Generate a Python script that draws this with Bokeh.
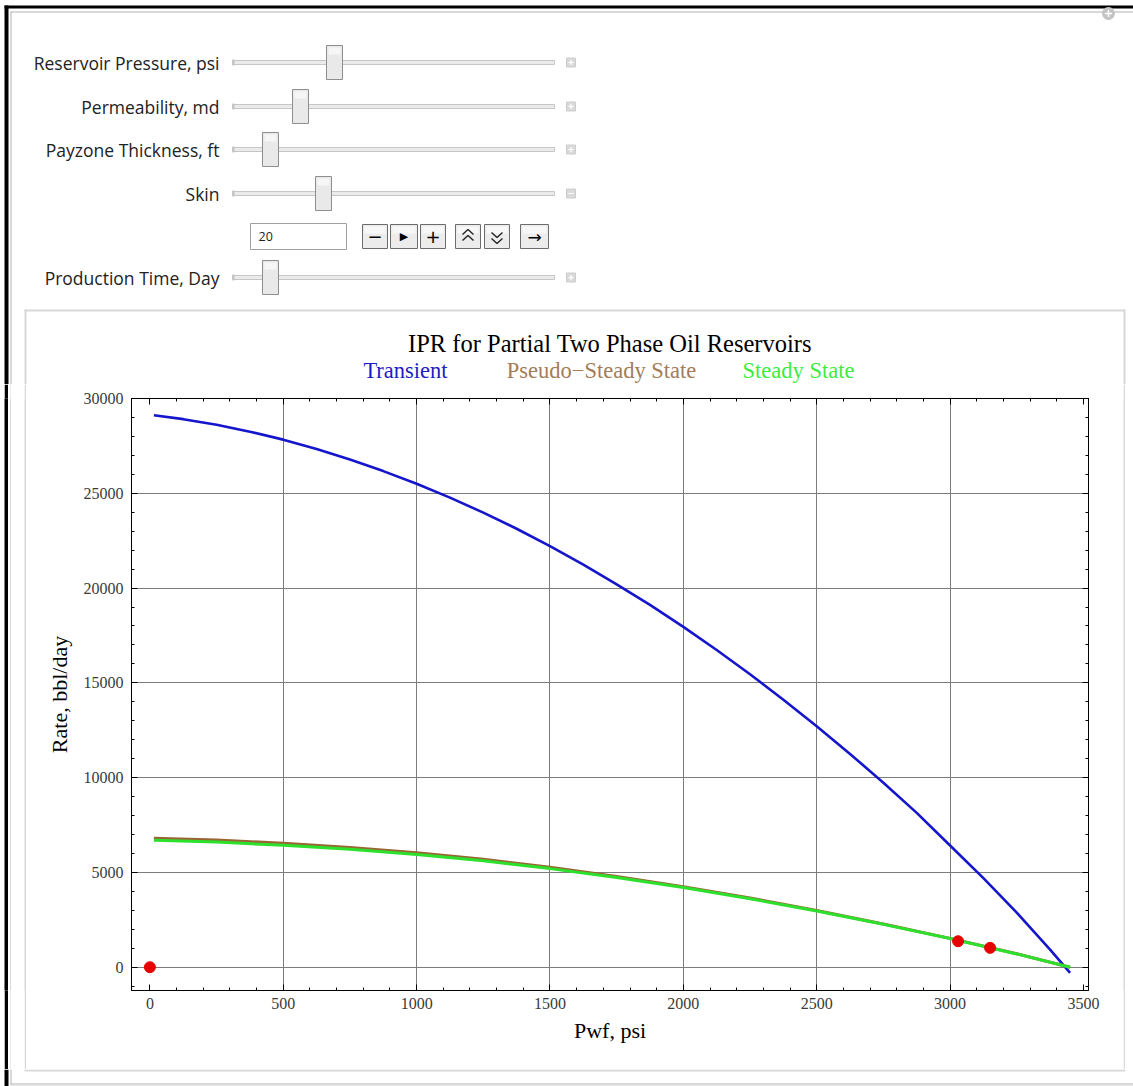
from bokeh.plotting import figure
from bokeh.layouts import column, row
from bokeh.models import (LinearAxis, SingleIntervalTicker, FixedTicker, Range1d,
                          CustomJSTickFormatter)
from bokeh.core.properties import value
from bokeh.embed import file_html
from bokeh.resources import INLINE

# ---------------- data ----------------
pwf_fine = [15, 125, 250, 375, 500, 625, 750, 875, 1000, 1125, 1250, 1375, 1500, 1625,
            1750, 1875, 2000, 2125, 2250, 2375, 2500, 2625, 2750, 2875, 3000, 3125,
            3250, 3375, 3450]
q_transient = [29120, 28910, 28620, 28250, 27830, 27330, 26780, 26170, 25500, 24770,
               23980, 23130, 22210, 21240, 20200, 19110, 17950, 16730, 15450, 14110,
               12710, 11250, 9730, 8140, 6420, 4700, 2880, 930, -300]
pwf = [15, 250, 500, 750, 1000, 1250, 1500, 1750, 2000, 2250, 2500, 2750, 3000, 3250, 3450]
q_pss = [6800, 6710, 6540, 6320, 6040, 5690, 5270, 4790, 4250, 3650, 2990, 2280, 1520, 705, 0]
q_ss = [6690, 6600, 6430, 6220, 5950, 5610, 5200, 4730, 4200, 3610, 2960, 2260, 1510, 700, 0]
op_pwf = [0, 3030, 3150]
op_rate = [0, 1370, 1020]

title_text = "IPR for Partial Two Phase Oil Reservoirs"
legend_names = ["Transient", "Pseudo\u2212Steady State", "Steady State"]
legend_colors = ["#1c1cc4", "#a47c58", "#3cec3c"]
x_label = "Pwf, psi"
y_label = "Rate, bbl/day"
x_grid = [500, 1000, 1500, 2000, 2500, 3000]
y_grid = [0, 5000, 10000, 15000, 20000, 25000]

control_names = ["Reservoir Pressure, psi", "Permeability, md", "Payzone Thickness, ft",
                 "Skin", "Production Time, Day"]
control_value = "20"

# ---------------- page geometry (pixels) ----------------
W, H = 1133, 1086
TOP_H = 384            # controls + title strip
PANEL_B = 1069         # bottom of the plot panel
FL, FR, FT, FB = 131, 1088, 398, 990
PLOT_X0, PLOT_W = 26, 1097
MID_H = PANEL_B - TOP_H


def deco_fig(w, h, x0, x1, y0, y1):
    f = figure(width=w, height=h, output_backend="svg", toolbar_location=None,
               x_range=Range1d(x0, x1), y_range=Range1d(y1, y0),
               x_axis_type=None, y_axis_type=None, min_border=0,
               background_fill_color="white", border_fill_color="white")
    f.outline_line_color = None
    return f


def strip(w, color):
    f = figure(width=w, height=MID_H, output_backend="svg", toolbar_location=None,
               x_axis_type=None, y_axis_type=None, min_border=0,
               background_fill_color=color, border_fill_color=color)
    f.outline_line_color = None
    return f


def fbox(f, l, t, r, b, color):
    f.quad(left=[l], right=[r], top=[t], bottom=[b], fill_color=color, line_color=None)


def obox(f, l, t, r, b, fill, line, lw=1):
    f.quad(left=[l], right=[r], top=[t], bottom=[b], fill_color=fill,
           line_color=line, line_width=lw)


def txt(f, x, y, s, size, color="#222222", font="Open Sans", align="left"):
    f.text(x=[x], y=[y], text=[s], text_font=value(font), text_font_size=f"{size}px",
           text_color=color, text_align=align, text_baseline="middle")


# ---------------- top strip: controls, title, legend ----------------
top = deco_fig(W, TOP_H, 0, W, 0, TOP_H)
fbox(top, 4, 5, 8, TOP_H, "black")
fbox(top, 4, 5, W, 8, "black")
fbox(top, 10, 11, 11, TOP_H, "#b4b4b4")
fbox(top, 10, 11, W, 12, "#b4b4b4")
fbox(top, 24, 309, 1125, 311, "#d8d8d8")
fbox(top, 24, 309, 26, TOP_H, "#d8d8d8")
fbox(top, 1123, 309, 1125, TOP_H, "#d8d8d8")

row_y = [62, 106, 149, 193, 277]
thumb_x = [334, 300, 270, 323, 270]
for name, yy, tx in zip(control_names, row_y, thumb_x):
    txt(top, 219, yy, name, 17.5, align="right")
    obox(top, 232, yy - 2, 554, yy + 2, "#ebebeb", "#c6c6c6")
    fbox(top, 232, yy - 3, 234, yy + 3, "#c4c4c4")
    obox(top, tx - 8, yy - 17, tx + 8, yy + 17, "#e9e9e9", "#8e8e8e")
    fbox(top, tx - 6, yy - 15, tx + 6, yy - 8, "#f6f6f6")
    obox(top, 566, yy - 4.5, 575, yy + 4.5, "#dadada", "#cdcdcd")
    fbox(top, 568, yy - 0.6, 573, yy + 0.6, "white")
    if name != "Skin":
        fbox(top, 569.9, yy - 2.5, 571.1, yy + 2.5, "white")

obox(top, 250, 223, 346, 249, "white", "#a0a0a0")
txt(top, 258, 236, control_value, 12.5)
buttons = [(362, 387), (390, 417), (420, 445), (455, 480), (484, 509), (520, 548)]
for l, r in buttons:
    obox(top, l, 224, r, 248, "#ececec", "#6c6c6c")
    fbox(top, l + 2, 226, r - 2, 233, "#f7f7f7")
txt(top, 374.5, 236, "\u2212", 18, color="black", font="DejaVu Sans", align="center")
txt(top, 403.5, 236, "\u25B6", 11, color="black", font="DejaVu Sans", align="center")
txt(top, 432.5, 236, "+", 18, color="black", font="DejaVu Sans", align="center")
top.multi_line(xs=[[462, 467.5, 473], [462, 467.5, 473], [491, 496.5, 502], [491, 496.5, 502]],
               ys=[[234, 229, 234], [240, 235, 240], [232, 237, 232], [238, 243, 238]],
               line_color="#222222", line_width=1.4)
txt(top, 534, 236, "\u2192", 17, color="black", font="DejaVu Sans", align="center")

top.scatter([1108], [13], size=13, fill_color="#c4c4c4", line_color=None)
fbox(top, 1104.5, 12.3, 1111.5, 13.7, "white")
fbox(top, 1107.3, 9.5, 1108.7, 16.5, "white")

txt(top, (FL + FR) / 2, 343, title_text, 24.5, color="black", font="Liberation Serif",
    align="center")
for cx, name, col in zip([405, 601, 798], legend_names, legend_colors):
    txt(top, cx, 370, name, 22.5, color=col, font="Liberation Serif", align="center")

# ---------------- bottom strip ----------------
bottom = deco_fig(W, H - PANEL_B, 0, W, PANEL_B, H)
fbox(bottom, 4, PANEL_B, 8, H, "black")
fbox(bottom, 10, PANEL_B, 11, 1084, "#b4b4b4")
fbox(bottom, 24, PANEL_B, 1125, PANEL_B + 2, "#d8d8d8")
fbox(bottom, 10, 1083, W, 1084, "#b4b4b4")
fbox(bottom, 10, 1085, W, 1086, "#cfcfcf")

# ---------------- the chart ----------------
X0, X1 = -69, 3519
Y0, Y1 = -1230, 30000
p = figure(width=PLOT_W, height=MID_H, output_backend="svg", toolbar_location=None,
           x_range=Range1d(X0, X1), y_range=Range1d(Y0, Y1),
           min_border_left=FL - PLOT_X0, min_border_right=PLOT_X0 + PLOT_W - FR,
           min_border_top=FT - TOP_H, min_border_bottom=PANEL_B - FB,
           background_fill_color="white", border_fill_color="white")
p.outline_line_color = "black"
p.outline_line_width = 1

blank = "return ''"
p.add_layout(LinearAxis(formatter=CustomJSTickFormatter(code=blank)), "above")
p.add_layout(LinearAxis(formatter=CustomJSTickFormatter(code=blank)), "right")

for ax in p.xaxis:
    ax.ticker = SingleIntervalTicker(interval=500, num_minor_ticks=5)
for ax in p.yaxis:
    ax.ticker = SingleIntervalTicker(interval=5000, num_minor_ticks=5)

for ax in list(p.xaxis) + list(p.yaxis):
    ax.axis_line_color = "black"
    ax.major_tick_in = 6
    ax.major_tick_out = 0
    ax.minor_tick_in = 3
    ax.minor_tick_out = 0
    ax.major_tick_line_color = "black"
    ax.minor_tick_line_color = "black"
    ax.major_label_text_font = "Liberation Serif"
    ax.major_label_text_font_size = "16px"
    ax.major_label_text_color = "#3a3a3a"
    ax.major_label_standoff = 8

for ax in (p.above[0], p.right[0]):
    ax.major_label_standoff = 0
    ax.major_label_text_font_size = "10px"

p.below[0].axis_label = x_label
p.left[0].axis_label = y_label
for ax in (p.below[0], p.left[0]):
    ax.axis_label_text_font = "Liberation Serif"
    ax.axis_label_text_font_size = "22px"
    ax.axis_label_text_font_style = "normal"
    ax.axis_label_text_color = "black"
p.below[0].axis_label_standoff = 6
p.below[0].major_label_standoff = 7
p.left[0].axis_label_standoff = 9

p.xgrid.ticker = FixedTicker(ticks=x_grid)
p.ygrid.ticker = FixedTicker(ticks=y_grid)
for g in (p.xgrid, p.ygrid):
    g.grid_line_color = "#7c7c7c"
    g.grid_line_width = 1

p.line(pwf_fine, q_transient, line_color="#1515cc", line_width=2.6)
p.line(pwf, q_pss, line_color="#996633", line_width=3)
p.line(pwf, q_ss, line_color="#2ee02e", line_width=3)
p.scatter(op_pwf, op_rate, size=11, fill_color="#e60000", line_color="#e60000")

# middle row: solid colour strips either side of the chart (page frame + panel border)
middle = row(strip(4, "white"), strip(4, "black"), strip(2, "white"), strip(1, "#b4b4b4"),
             strip(13, "white"), strip(2, "#d8d8d8"), p, strip(2, "#d8d8d8"),
             strip(8, "white"))

page = column(top, middle, bottom)
open("out.html", "w").write(file_html(page, INLINE))
